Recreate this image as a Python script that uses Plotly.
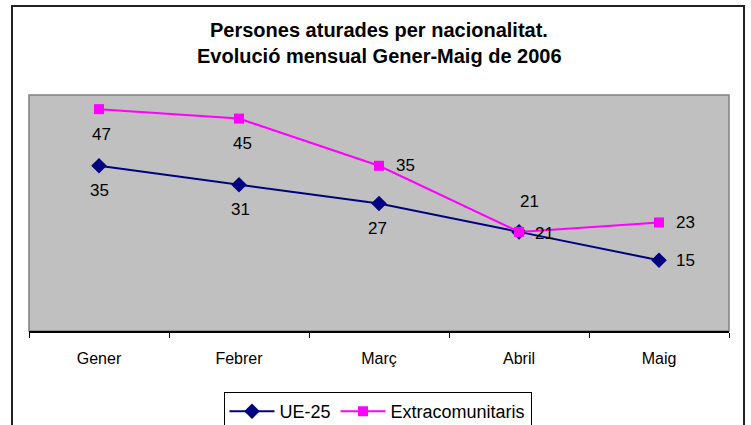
import plotly.graph_objects as go

months = ["Gener", "Febrer", "Març", "Abril", "Maig"]
ue25 = [35, 31, 27, 21, 15]
extra = [47, 45, 35, 21, 23]
title_lines = ["Persones aturades per nacionalitat.", "Evolució mensual Gener-Maig de 2006"]

# label placements (styling): (xshift, yshift)
ue_pos = [(0, -25), (1, -25), (-2, -25), (25, -2), (26, 0)]
ex_pos = [(2, -25), (3, -25), (26, 0), (10, 30), (26, 0)]

FONT = "Liberation Sans, Arial, sans-serif"

L, R, T, B = 29, 729, 95, 331  # plot area in pixels
W, H = 751, 425
PH = B - T


def py(p):
    return (B - p) / PH


def px(p):
    return (p - L) / (R - L)


fig = go.Figure()
fig.add_trace(go.Scatter(
    x=months, y=ue25, name="UE-25", mode="lines+markers",
    line=dict(color="#000080", width=2),
    marker=dict(symbol="diamond", size=12, color="#000080"),
))
fig.add_trace(go.Scatter(
    x=months, y=extra, name="Extracomunitaris", mode="lines+markers",
    line=dict(color="#FF00FF", width=2),
    marker=dict(symbol="square", size=10, color="#FF00FF"),
))

annotations = []
for series, pos in ((ue25, ue_pos), (extra, ex_pos)):
    for m, v, (dx, dy) in zip(months, series, pos):
        annotations.append(dict(
            x=m, y=v, xref="x", yref="y", text=str(v), showarrow=False,
            xshift=dx, yshift=dy, font=dict(family=FONT, size=17, color="#000000"),
        ))

for line_text, ypix in zip(title_lines, (30, 56)):
    annotations.append(dict(
        x=0.5, xref="paper", y=py(ypix), yref="paper", xanchor="center", yanchor="middle",
        text="<b>" + line_text + "</b>", showarrow=False,
        font=dict(family=FONT, size=20, color="#000000"),
    ))

fig.update_layout(
    width=W, height=H,
    margin=dict(l=L, r=W - R, t=T, b=H - B, autoexpand=False),
    paper_bgcolor="white", plot_bgcolor="#C0C0C0",
    font=dict(family=FONT, size=16, color="#000000"),
    xaxis=dict(
        type="category", range=[-0.5, 4.5], showgrid=False,
        showline=True, linecolor="#000000", linewidth=1.5,
        ticks="outside", tickson="boundaries", ticklen=5, tickcolor="#000000",
        ticklabelstandoff=12,
        tickfont=dict(family=FONT, size=16, color="#000000"),
    ),
    yaxis=dict(
        range=[0, 50], showgrid=False, showline=False, showticklabels=False,
        zeroline=False, ticks="",
    ),
    showlegend=True,
    legend=dict(
        orientation="h", x=px(377.5), xanchor="center", y=py(392), yanchor="top",
        bordercolor="#000000", borderwidth=1, bgcolor="white",
        font=dict(family=FONT, size=18, color="#000000"),
        tracegroupgap=0, itemwidth=45,
    ),
    annotations=annotations,
    shapes=[
        dict(type="rect", xref="paper", yref="paper", x0=0, x1=1, y0=0, y1=1,
             line=dict(color="#808080", width=1.5), layer="below"),
        dict(type="rect", xref="paper", yref="paper",
             x0=px(12), x1=px(744), y0=py(440), y1=py(6),
             line=dict(color="#222222", width=2)),
    ],
)

fig.write_html("out.html", config={"displayModeBar": False},
               post_script="document.body.style.margin='0';")
